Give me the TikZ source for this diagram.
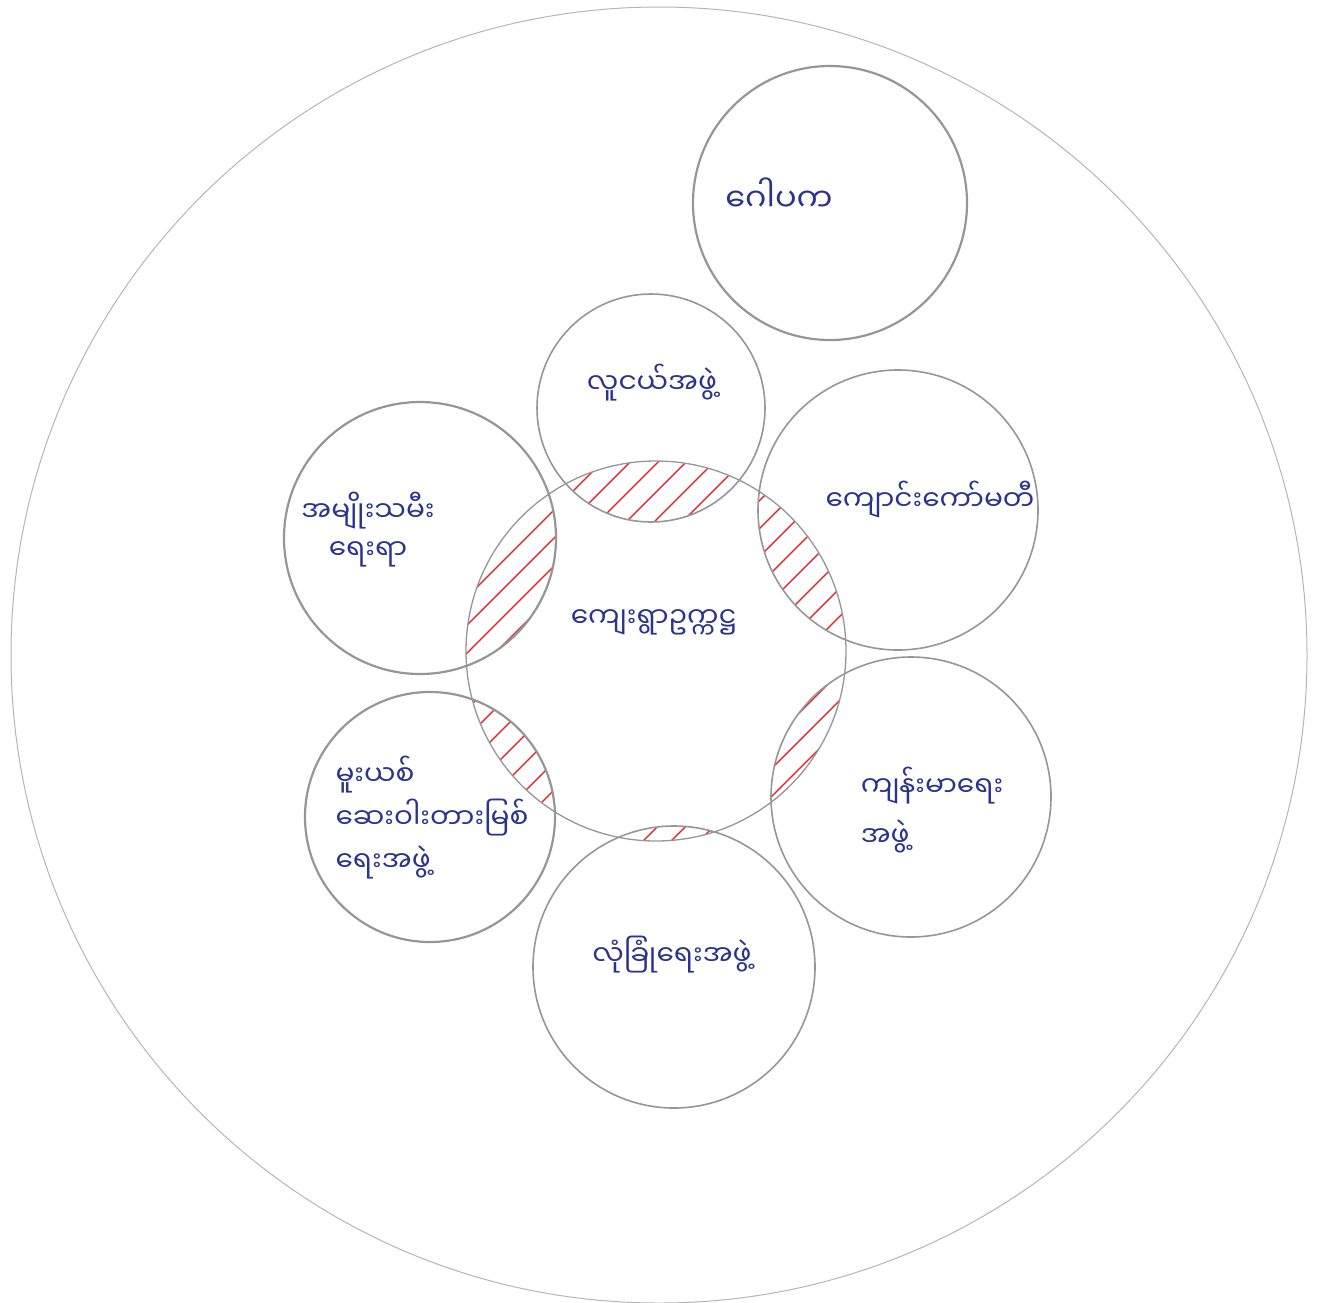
\documentclass[tikz,border=0pt]{standalone}
\usepackage{fontspec}
\newfontfamily\mmfont[Script=Myanmar]{Noto Sans Myanmar UI}

\definecolor{ink}{RGB}{42,52,140}
\definecolor{pencil}{RGB}{150,150,150}
\definecolor{hatchred}{RGB}{225,45,55}

\tikzset{
  ring/.style={draw=pencil, line width=2.2pt},
  outerring/.style={draw=pencil!70, line width=1.0pt},
  hatch/.style={draw=hatchred, line width=1.4pt},
  lbl/.style={text=ink, inner sep=0pt, font=\mmfont\fontsize{28}{42}\selectfont}
}

\begin{document}
\begin{tikzpicture}[x=1pt, y=-1pt, line cap=round, line join=round]

  %% ==== hatched overlaps (centre circle with its six neighbours) ====
  \foreach \cx/\cy/\r in {651/408/114, 898/510/140, 420/538/136,
                          911/797/140, 430/817/125, 674/967/141}{
    \begin{scope}
      \clip (656,651) circle (190);
      \clip (\cx,\cy) circle (\r);
      \foreach \c in {700,728,...,2000}
        \draw[hatch] (\c-400,400) -- (\c-1100,1100);
    \end{scope}
  }

  %% ==== circles ====
  \draw[outerring] (659,655) circle (648);
  \draw[ring] (830,203) circle (137);   % gopaka
  \draw[ring, line width=1.6pt] (651,408) circle (114);   % youth
  \draw[ring, line width=1.6pt] (898,510) circle (140);   % school
  \draw[ring] (420,538) circle (136);   % women
  \draw[ring, line width=1.3pt] (656,651) circle (190);   % chairman
  \draw[ring, line width=1.6pt] (911,797) circle (140);   % health
  \draw[ring] (430,817) circle (125);   % drugs
  \draw[ring, line width=1.6pt] (674,967) circle (141);   % security

  %% ==== labels ====
  \node[lbl, font=\mmfont\fontsize{32}{40}\selectfont] (gopaka) at (779,195) {ဂေါပက};
  \node[lbl] (youth)    at (652,383) {လူငယ်အဖွဲ့};
  \node[lbl] (school)   at (930,500) {ကျောင်းကော်မတီ};
  \node[lbl, align=center, font=\mmfont\fontsize{28}{38}\selectfont] (women) at (368,530) {အမျိုးသမီး\\ရေးရာ};
  \node[lbl] (chairman) at (654,622) {ကျေးရွာဥက္ကဋ္ဌ};
  \node[lbl, align=left, font=\mmfont\fontsize{28}{50}\selectfont] (health) at (932,810) {ကျန်းမာရေး\\အဖွဲ့};
  \node[lbl, align=left, font=\mmfont\fontsize{28}{43}\selectfont] (drugs)  at (432,818) {မူးယစ်\\ဆေးဝါးတားမြစ်\\ရေးအဖွဲ့};
  \node[lbl] (security) at (672,955) {လုံခြုံရေးအဖွဲ့};

  \pgfresetboundingbox
  \path[use as bounding box] (0,0) rectangle (1317,1302);
\end{tikzpicture}
\end{document}
